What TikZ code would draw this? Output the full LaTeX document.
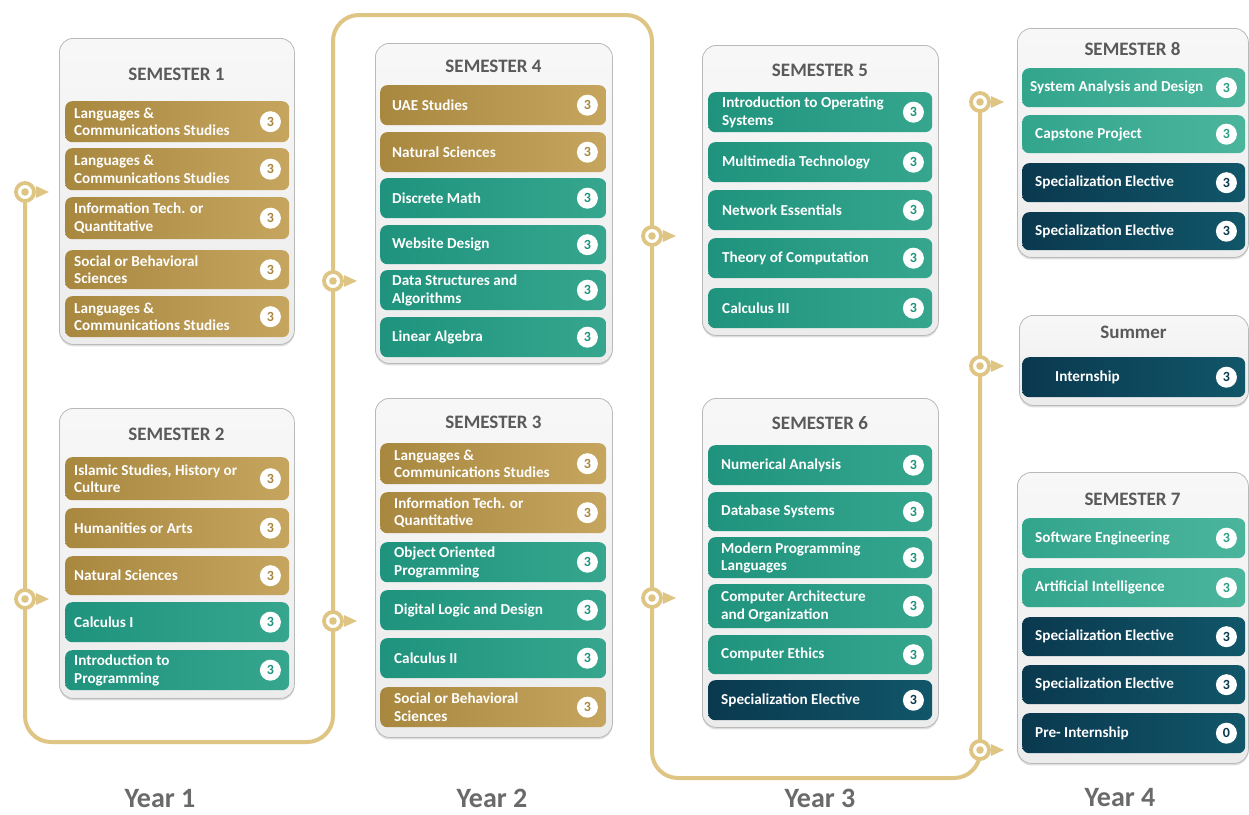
\documentclass[tikz,border=0pt]{standalone}
\usepackage{fontspec}
\setmainfont{Carlito}
\usetikzlibrary{backgrounds,shadows}
\definecolor{goldL}{HTML}{A8873F}
\definecolor{goldR}{HTML}{C6A65F}
\definecolor{goldD}{HTML}{A8873F}
\definecolor{tealL}{HTML}{1F937D}
\definecolor{tealR}{HTML}{36A68E}
\definecolor{tealD}{HTML}{1F937D}
\definecolor{teallL}{HTML}{33A58D}
\definecolor{teallR}{HTML}{4BB59C}
\definecolor{teallD}{HTML}{2E9E87}
\definecolor{navyL}{HTML}{0A394F}
\definecolor{navyR}{HTML}{115669}
\definecolor{navyD}{HTML}{0A394F}
\definecolor{pathc}{HTML}{DFC584}
\definecolor{hdrc}{HTML}{5A5A5A}
\definecolor{yrc}{HTML}{6A6A6A}
\tikzset{
  crsbar/.style={rounded corners=7pt, left color=#1L, right color=#1R, draw=none, inner sep=0pt},
  crstext/.style={font=\fontsize{15.2}{17.5}\selectfont\bfseries, text=white, align=left, inner sep=0pt},
  badge/.style={circle, fill=white, minimum size=21pt, inner sep=0pt, font=\fontsize{14}{14}\selectfont\bfseries},
  panel/.style={rounded corners=14pt, draw=gray!55, line width=0.8pt, top color=gray!6, bottom color=gray!15, inner sep=0pt,
     drop shadow={shadow xshift=0pt, shadow yshift=-2pt, opacity=0.25}},
  hdr/.style={font=\fontsize{19}{19}\selectfont\bfseries, text=hdrc, inner sep=0pt},
  yr/.style={font=\fontsize{28}{28}\selectfont\bfseries, text=yrc, inner sep=0pt},
  mile/.style={circle, draw=pathc, line width=3.8pt, fill=white, minimum size=18pt, inner sep=0pt},
  pathline/.style={draw=pathc, line width=4pt, rounded corners=26pt}
}
% #1 name, #2 kind, #3 top, #4 bottom, #5 text, #6 number
\newcommand\course[6]{%
  \node[crsbar=#2, minimum width=\barw, minimum height={(#4-#3)*1pt}, anchor=north west] (#1) at (\barx,#3) {};
  \node[crstext, anchor=west] (#1t) at ([xshift=\inset]#1.west) {#5};
  \node[badge, text=#2D] (#1b) at ([xshift=-19pt]#1.east) {#6};
}
% #1 name, #2 x1, #3 y1, #4 x2, #5 y2, #6 header, #7 header y
\newcommand\semester[7]{%
  \node[panel, minimum width={(#4-#2)*1pt}, minimum height={(#5-#3)*1pt}, anchor=north west] (#1) at (#2,#3) {};
  \node[hdr] (#1h) at ({(#2+#4)/2},#7) {#6};
}
\newcommand\milestone[3]{%
  \node[mile] (#1) at (#2,#3) {};
  \fill[pathc] (#1.center) circle (3.8);
  \fill[pathc] ([yshift=6pt]#1.east) -- ([xshift=13pt]#1.east) -- ([yshift=-6pt]#1.east) -- cycle;
}
\begin{document}
\begin{tikzpicture}[x=1pt,y=-1pt]
\useasboundingbox (0,0) rectangle (1249,814);

% milestones
\milestone{m1}{25}{192}
\milestone{m2}{25}{599}
\milestone{m3}{333}{281}
\milestone{m4}{333}{621}
\milestone{m5}{652}{236}
\milestone{m6}{652}{598}
\milestone{m7}{980}{102}
\milestone{m8}{980}{366}
\milestone{m9}{980}{750}

\coordinate (k1) at (25,742);
\coordinate (k2) at (333,742);
\coordinate (k3) at (333,15);
\coordinate (k4) at (652,15);
\coordinate (k5) at (652,778);
\coordinate (k6) at (980,778);
\begin{scope}[on background layer]
\fill[white] (0,0) rectangle (1249,814);
\draw[pathline] (m1.center) -- (k1) -- (k2) -- (k3) -- (k4) -- (k5) -- (k6) -- (m7.center);
\end{scope}

% ---------- Year 1 ----------
\def\barx{65}\def\barw{224pt}\def\inset{9pt}
\semester{s1}{59}{38}{294}{344}{SEMESTER 1}{74}
\course{a1}{gold}{101}{142}{Languages \&\\Communications Studies}{3}
\course{a2}{gold}{148}{190}{Languages \&\\Communications Studies}{3}
\course{a3}{gold}{197}{239}{Information Tech. or\\Quantitative}{3}
\course{a4}{gold}{250}{289}{Social or Behavioral\\Sciences}{3}
\course{a5}{gold}{296}{337}{Languages \&\\Communications Studies}{3}

\semester{s2}{59}{408}{294}{698}{SEMESTER 2}{434}
\course{b1}{gold}{457}{500}{Islamic Studies, History or\\Culture}{3}
\course{b2}{gold}{508}{548}{Humanities or Arts}{3}
\course{b3}{gold}{556}{595}{Natural Sciences}{3}
\course{b4}{teal}{602}{642}{Calculus I}{3}
\course{b5}{teal}{650}{690}{Introduction to\\Programming}{3}

% ---------- Year 2 ----------
\def\barx{380}\def\barw{226pt}\def\inset{12pt}
\semester{s4}{375}{43}{612}{363}{SEMESTER 4}{66}
\course{c1}{gold}{85}{125}{UAE Studies}{3}
\course{c2}{gold}{132}{172}{Natural Sciences}{3}
\course{c3}{teal}{178}{218}{Discrete Math}{3}
\course{c4}{teal}{225}{264}{Website Design}{3}
\course{c5}{teal}{270}{310}{Data Structures and\\Algorithms}{3}
\course{c6}{teal}{317}{357}{Linear Algebra}{3}

\def\inset{14pt}
\semester{s3}{375}{398}{612}{737}{SEMESTER 3}{422}
\course{d1}{gold}{443}{484}{Languages \&\\Communications Studies}{3}
\course{d2}{gold}{492}{533}{Information Tech. or\\Quantitative}{3}
\course{d3}{teal}{542}{582}{Object Oriented\\Programming}{3}
\course{d4}{teal}{590}{630}{Digital Logic and Design}{3}
\course{d5}{teal}{638}{678}{Calculus II}{3}
\course{d6}{gold}{687}{727}{Social or Behavioral\\Sciences}{3}

% ---------- Year 3 ----------
\def\barx{708}\def\barw{224pt}\def\inset{14pt}
\semester{s5}{702}{45}{938}{335}{SEMESTER 5}{70}
\course{e1}{teal}{92}{132}{Introduction to Operating\\Systems}{3}
\course{e2}{teal}{142}{182}{Multimedia Technology}{3}
\course{e3}{teal}{190}{230}{Network Essentials}{3}
\course{e4}{teal}{238}{278}{Theory of Computation}{3}
\course{e5}{teal}{288}{328}{Calculus III}{3}

\def\inset{13pt}
\semester{s6}{702}{398}{938}{727}{SEMESTER 6}{423}
\course{f1}{teal}{445}{485}{Numerical Analysis}{3}
\course{f2}{teal}{492}{531}{Database Systems}{3}
\course{f3}{teal}{537}{578}{Modern Programming\\Languages}{3}
\course{f4}{teal}{584}{628}{Computer Architecture\\and Organization}{3}
\course{f5}{teal}{635}{674}{Computer Ethics}{3}
\course{f6}{navy}{680}{720}{Specialization Elective}{3}

% ---------- Year 4 ----------
\def\barx{1022}\def\barw{223pt}\def\inset{8pt}
\semester{s8}{1017}{28}{1248}{257}{SEMESTER 8}{49}
\course{g1}{teall}{68}{107}{System Analysis and Design}{3}
\def\inset{13pt}
\course{g2}{teall}{115}{153}{Capstone Project}{3}
\course{g3}{navy}{163}{202}{Specialization Elective}{3}
\course{g4}{navy}{212}{250}{Specialization Elective}{3}

\def\inset{33pt}
\semester{su}{1019}{315}{1248}{405}{Summer}{332}
\course{h1}{navy}{357}{397}{Internship}{3}

\def\inset{13pt}
\semester{s7}{1017}{472}{1248}{763}{SEMESTER 7}{499}
\course{i1}{teall}{518}{558}{Software Engineering}{3}
\course{i2}{teall}{568}{607}{Artificial Intelligence}{3}
\course{i3}{navy}{617}{656}{Specialization Elective}{3}
\course{i4}{navy}{665}{704}{Specialization Elective}{3}
\course{i5}{navy}{713}{753}{Pre- Internship}{0}

% Year labels
\node[yr] (y1) at (160,798) {Year 1};
\node[yr] (y2) at (492,798) {Year 2};
\node[yr] (y3) at (820,798) {Year 3};
\node[yr] (y4) at (1120,798) {Year 4};
\end{tikzpicture}
\end{document}
